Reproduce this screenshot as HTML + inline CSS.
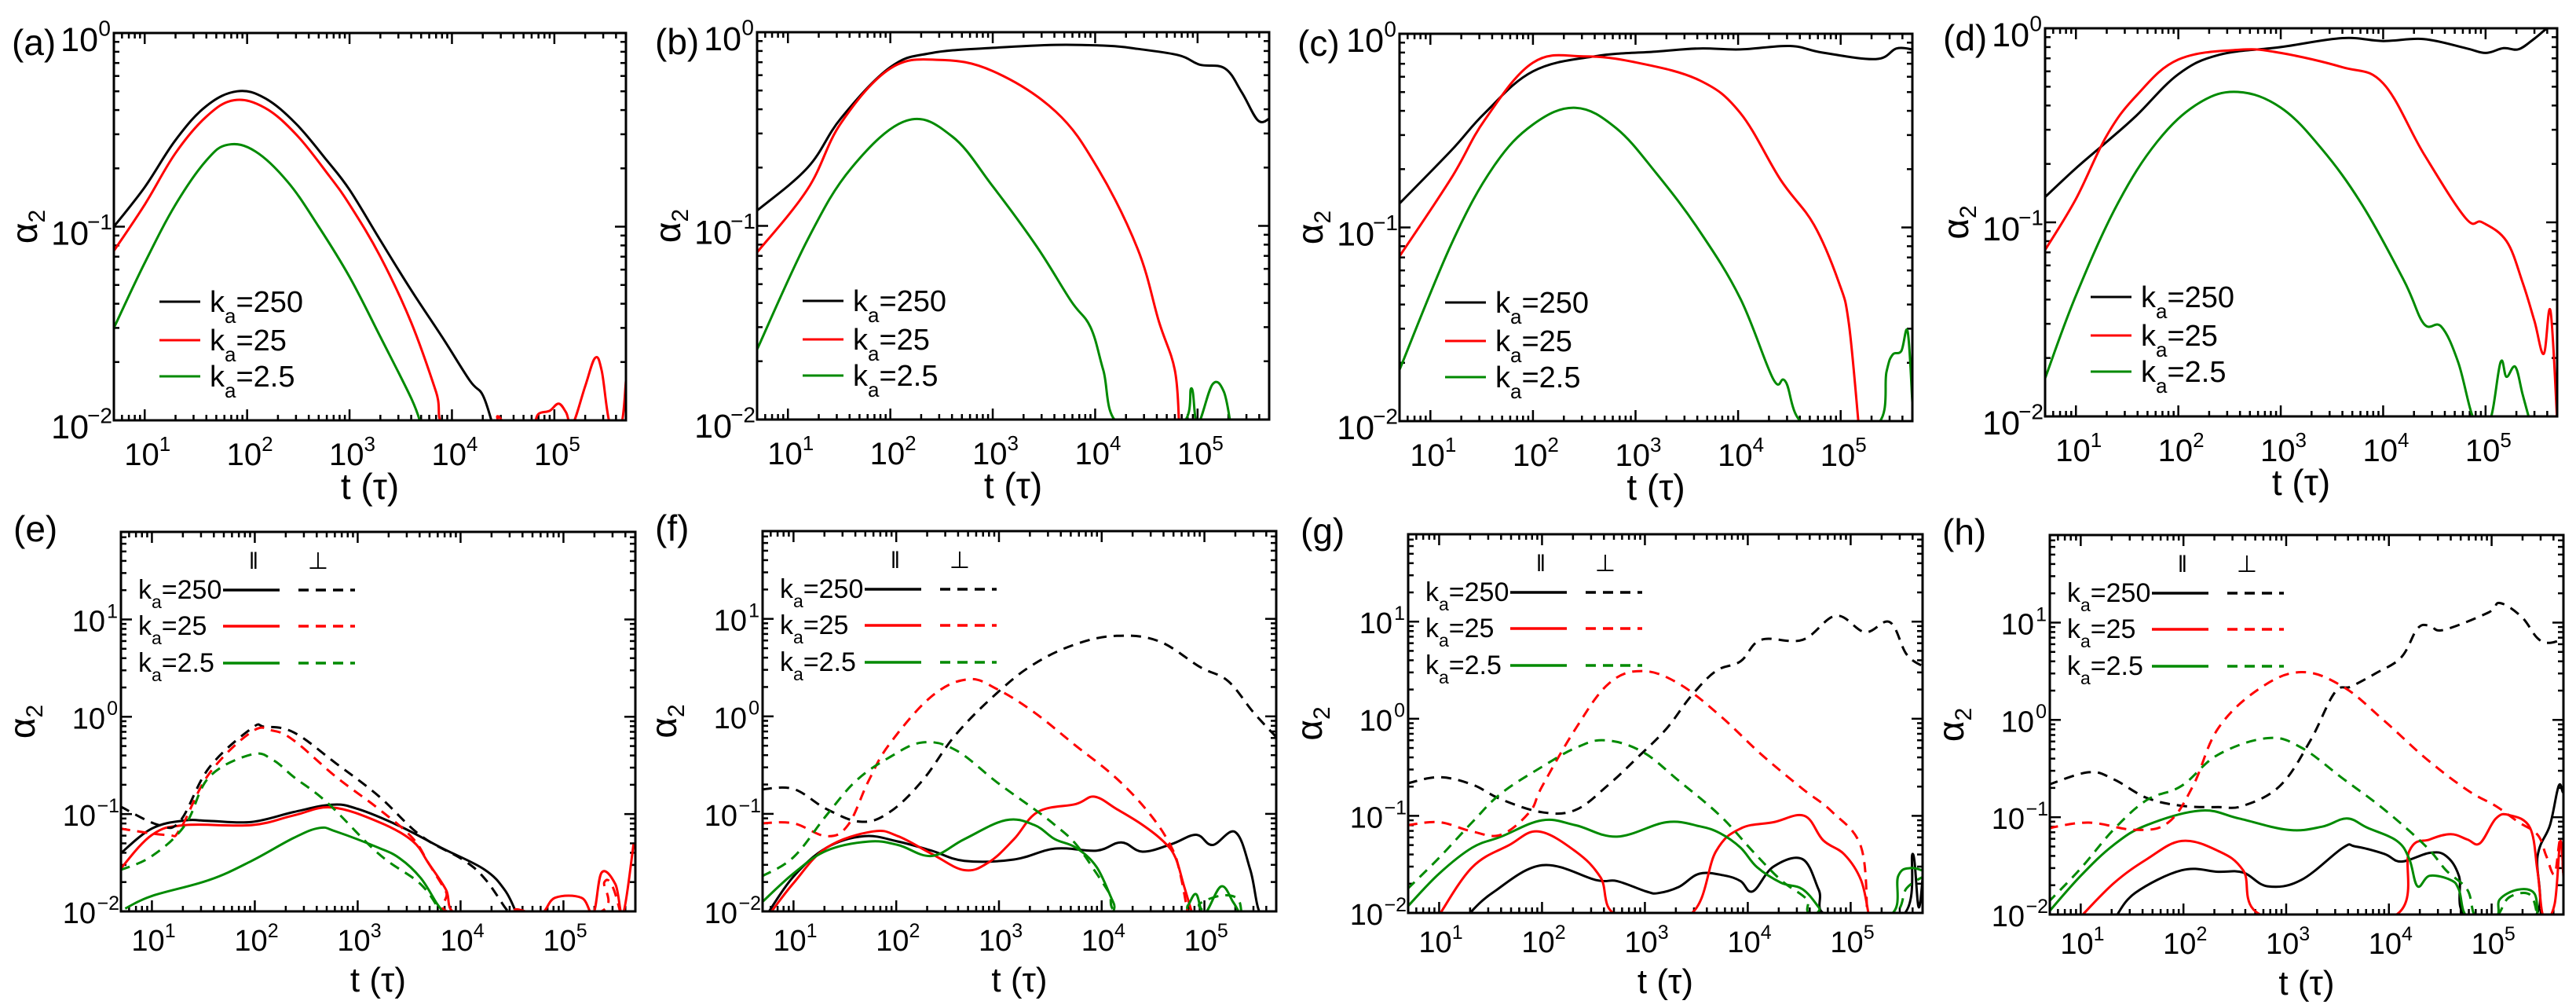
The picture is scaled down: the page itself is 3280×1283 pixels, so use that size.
<!DOCTYPE html>
<html><head><meta charset="utf-8">
<style>
html,body{margin:0;padding:0;background:#fff;}
svg{display:block;font-family:"Liberation Sans",Arial,sans-serif;}
</style></head>
<body>
<svg id="fig" width="3280" height="1283" viewBox="0 0 3280 1283" xmlns="http://www.w3.org/2000/svg"></svg>
<script>
// ---------- data: [t, alpha2] pairs (values < 0.01 fall below axis) ----------
const A_k250=[[5,0.10],[10,0.16],[20,0.28],[40,0.42],[80,0.50],[150,0.46],[300,0.34],[600,0.22],[1000,0.155],[2000,0.085],[4000,0.047],[8000,0.027],[15000,0.016],[20000,0.0135],[25000,0.0095]];
const A_k25=[[5,0.075],[10,0.13],[20,0.24],[40,0.37],[75,0.45],[150,0.41],[300,0.30],[600,0.19],[1000,0.13],[2000,0.07],[4000,0.032],[7000,0.014],[8500,0.0095],[25000,0.0095],[28000,0.0105],[35000,0.0095],[60000,0.0095],[70000,0.0108],[90000,0.0112],[110000,0.0122],[130000,0.011],[150000,0.0095],[200000,0.015],[250000,0.021],[290000,0.018],[350000,0.0095],[450000,0.0095],[500000,0.016]];
const A_k2_5=[[5,0.03],[10,0.065],[20,0.13],[40,0.22],[65,0.265],[120,0.245],[250,0.17],[500,0.1],[1000,0.055],[2000,0.027],[4000,0.013],[5000,0.0095]];

const B_k250=[[5,0.12],[15.6,0.2],[33,0.36],[100,0.66],[250,0.78],[1000,0.83],[4100,0.86],[13700,0.85],[26000,0.82],[66000,0.76],[105000,0.68],[185000,0.65],[270000,0.49],[390000,0.35],[510000,0.36]];
const B_k25=[[5,0.073],[15.6,0.155],[33,0.34],[100,0.65],[300,0.72],[1000,0.63],[4100,0.39],[10500,0.2],[26000,0.076],[42000,0.032],[60000,0.018],[66000,0.0095]];
const B_k2_5=[[5,0.023],[15.6,0.085],[42,0.2],[145,0.35],[400,0.29],[1000,0.16],[2700,0.078],[5800,0.041],[9000,0.03],[12000,0.018],[17000,0.0095],[69000,0.0095],[87000,0.0145],[100000,0.0095],[140000,0.0152],[180000,0.014],[210000,0.0095]];

const C_k250=[[5,0.133],[16,0.25],[34,0.39],[100,0.64],[400,0.765],[1600,0.81],[4200,0.84],[10500,0.83],[32000,0.865],[66000,0.8],[220000,0.74],[350000,0.84],[500000,0.83]];
const C_k25=[[5,0.071],[16,0.18],[34,0.36],[100,0.71],[310,0.765],[1030,0.71],[4200,0.575],[10500,0.39],[26000,0.176],[55000,0.103],[96000,0.052],[120000,0.032],[150000,0.0095]];
const C_k2_5=[[5,0.0184],[16,0.082],[41,0.205],[100,0.34],[260,0.415],[650,0.325],[1600,0.19],[4200,0.096],[10500,0.043],[22000,0.0165],[29000,0.016],[46000,0.0095],[220000,0.0095],[280000,0.018],[320000,0.022],[390000,0.023],[450000,0.029],[500000,0.0125]];

const D_k250=[[5,0.135],[10,0.19],[20,0.26],[39,0.355],[100,0.58],[250,0.73],[1000,0.8],[4000,0.89],[10000,0.86],[25000,0.88],[64000,0.79],[100000,0.746],[150000,0.79],[210000,0.78],[300000,0.885],[400000,1.0],[500000,1.05]];
const D_k25=[[5,0.072],[10,0.132],[20,0.28],[39,0.45],[100,0.69],[400,0.775],[1000,0.746],[4000,0.63],[10000,0.52],[25000,0.225],[64000,0.105],[93000,0.1],[160000,0.08],[230000,0.049],[300000,0.031],[370000,0.021],[430000,0.035],[500000,0.0095]];
const D_k2_5=[[5,0.0157],[10,0.042],[25,0.122],[62,0.26],[157,0.41],[380,0.47],[1000,0.39],[2500,0.24],[6300,0.122],[16000,0.05],[25000,0.03],[37000,0.029],[54000,0.019],[78000,0.0095],[110000,0.0095],[140000,0.019],[160000,0.016],[195000,0.018],[230000,0.013],[270000,0.0095]];

const E_k250_par=[[4.9,0.039],[10,0.071],[21,0.086],[36,0.085],[93,0.083],[240,0.105],[560,0.125],[1000,0.113],[2570,0.075],[6500,0.045],[17000,0.027],[27000,0.0165],[35000,0.0095]];
const E_k250_perp=[[4.9,0.12],[11.7,0.077],[18.8,0.085],[36,0.3],[93,0.76],[124,0.79],[240,0.69],[620,0.33],[1600,0.153],[4100,0.06],[10500,0.034],[17000,0.022],[27000,0.011],[30000,0.0095]];
const E_k25_par=[[4.9,0.027],[10,0.061],[21,0.077],[93,0.077],[240,0.097],[560,0.117],[1600,0.083],[3400,0.053],[4900,0.031],[7200,0.0168],[9100,0.0095],[30000,0.0095],[35000,0.0105],[60000,0.0095],[83000,0.0138],[150000,0.0138],[195000,0.0095],[235000,0.025],[320000,0.019],[380000,0.0095],[480000,0.049]];
const E_k25_perp=[[4.9,0.071],[14,0.061],[18.8,0.07],[36,0.26],[93,0.70],[150,0.72],[240,0.57],[620,0.24],[1600,0.113],[3400,0.057],[4900,0.031],[7200,0.016],[9100,0.0095],[200000,0.0095],[250000,0.02],[300000,0.018],[360000,0.0095]];
const E_k2_5_par=[[5.5,0.0107],[10,0.0144],[36,0.021],[93,0.033],[240,0.057],[425,0.072],[620,0.066],[1600,0.045],[2570,0.035],[4100,0.022],[5900,0.012],[7000,0.0095]];
const E_k2_5_perp=[[4.9,0.0265],[10,0.037],[21,0.077],[36,0.24],[93,0.41],[150,0.36],[240,0.24],[510,0.13],[1600,0.039],[4100,0.019],[6500,0.0095]];

const F_k250_par=[[5.6,0.0095],[10,0.0228],[21,0.045],[49,0.059],[104,0.052],[220,0.042],[460,0.033],[1400,0.034],[3500,0.044],[8900,0.042],[15500,0.051],[25000,0.041],[48000,0.049],[83000,0.061],[120000,0.048],[200000,0.065],[280000,0.0265],[350000,0.0095],[500000,0.0095],[510000,0.052]];
const F_k250_perp=[[4.9,0.178],[10,0.18],[21,0.112],[45,0.083],[86,0.104],[180,0.22],[380,0.65],[960,1.74],[2200,3.45],[5600,5.5],[14000,6.7],[36000,5.9],[91000,3.2],[170000,2.3],[300000,1.1],[510000,0.6]];
const F_k25_par=[[5.9,0.0095],[10,0.0195],[21,0.045],[59,0.066],[104,0.059],[220,0.039],[460,0.0265],[800,0.032],[1400,0.055],[2400,0.105],[5600,0.126],[8500,0.15],[14000,0.112],[25000,0.077],[40000,0.052],[52000,0.036],[63000,0.0185],[76000,0.0095]];
const F_k25_perp=[[4.9,0.08],[10,0.08],[21,0.059],[34,0.077],[54,0.22],[86,0.52],[220,1.6],[500,2.4],[960,1.9],[2200,1.1],[5600,0.5],[14000,0.23],[30000,0.097],[48000,0.045],[58000,0.0245],[69000,0.0095]];
const F_k2_5_par=[[4.9,0.0123],[10,0.0245],[21,0.042],[54,0.052],[104,0.048],[220,0.037],[460,0.055],[1160,0.086],[2200,0.077],[3500,0.055],[5600,0.045],[8900,0.0286],[13000,0.0123],[15000,0.0095],[58000,0.0095],[69000,0.0115],[83000,0.015],[100000,0.0095],[145000,0.018],[190000,0.0125],[220000,0.0095]];
const F_k2_5_perp=[[4.9,0.0228],[10,0.036],[21,0.097],[41,0.22],[86,0.38],[180,0.54],[380,0.45],[960,0.21],[2200,0.112],[3500,0.077],[5600,0.049],[8900,0.0245],[11800,0.0155],[15500,0.0095],[83000,0.0095],[90000,0.012],[145000,0.0145],[210000,0.0135],[230000,0.0095]];

const G_k250_par=[[19,0.0095],[33,0.0161],[100,0.031],[336,0.0218],[535,0.0213],[1020,0.0167],[1340,0.016],[2130,0.0185],[3400,0.0254],[5900,0.0243],[8500,0.0213],[11200,0.0167],[17800,0.03],[34000,0.0358],[49000,0.0172],[60000,0.0095],[320000,0.0095],[400000,0.0405],[460000,0.0114],[520000,0.039]];
const G_k250_perp=[[4.9,0.216],[10,0.25],[21,0.21],[40,0.148],[100,0.109],[212,0.115],[445,0.21],[850,0.4],[1620,0.79],[2800,1.7],[4900,3.1],[8500,3.9],[13500,6.5],[34000,6.5],[72000,11.5],[138000,7.8],[240000,9.9],[350000,4.6],[520000,3.4]];
const G_k25_par=[[10,0.0095],[21,0.0296],[48,0.05],[92,0.069],[212,0.043],[370,0.0233],[535,0.0095],[2700,0.0095],[4900,0.043],[8500,0.074],[17800,0.086],[35500,0.1],[54000,0.056],[87000,0.04],[126000,0.0218],[150000,0.0095]];
const G_k25_perp=[[4.9,0.08],[10,0.086],[21,0.069],[40,0.064],[76,0.11],[100,0.2],[212,0.79],[445,2.3],[935,3.1],[2130,2.3],[5400,1.07],[13500,0.43],[34000,0.19],[66000,0.11],[126000,0.048],[145000,0.0095]];
const G_k2_5_par=[[5,0.0118],[10,0.0254],[21,0.047],[40,0.061],[100,0.09],[212,0.08],[535,0.061],[1620,0.086],[3400,0.078],[5400,0.066],[8500,0.047],[12300,0.0296],[21000,0.0205],[34000,0.0176],[49000,0.0114],[54000,0.0095],[240000,0.0095],[290000,0.024],[380000,0.029],[520000,0.027]];
const G_k2_5_perp=[[4.9,0.0176],[10,0.037],[21,0.086],[40,0.17],[100,0.32],[212,0.5],[405,0.6],[935,0.46],[2130,0.23],[5400,0.1],[11200,0.043],[21000,0.0218],[37000,0.014],[45000,0.0095],[240000,0.0095],[350000,0.018],[520000,0.024]];

const H_k250_par=[[22,0.0095],[34,0.0167],[96,0.0285],[218,0.0275],[381,0.027],[660,0.0195],[1400,0.0226],[3560,0.0485],[4690,0.05],[9000,0.042],[13200,0.035],[25000,0.043],[36000,0.04],[48000,0.025],[58000,0.0095],[260000,0.0095],[280000,0.04],[370000,0.083],[450000,0.21],[500000,0.18],[550000,0.245]];
const H_k250_perp=[[4.8,0.215],[12,0.29],[21,0.245],[44,0.158],[96,0.131],[218,0.127],[381,0.131],[870,0.21],[1700,0.6],[2960,1.9],[4270,2.2],[7400,3.0],[13200,4.4],[19000,8.7],[25000,9.3],[34000,8.4],[93000,12.7],[120000,15.9],[195000,11.5],[280000,6.9],[370000,6.2],[550000,7.1]];
const H_k25_par=[[10,0.0095],[21,0.021],[44,0.037],[96,0.057],[218,0.045],[381,0.0285],[630,0.0095],[10900,0.0095],[15800,0.045],[25000,0.059],[40000,0.067],[58000,0.059],[77000,0.054],[110000,0.097],[148000,0.105],[236000,0.078],[280000,0.0275],[320000,0.0095],[410000,0.0127],[470000,0.057],[520000,0.0095]];
const H_k25_perp=[[4.8,0.077],[12,0.088],[34,0.074],[71,0.088],[124,0.21],[218,0.82],[550,2.1],[1400,3.1],[3560,2.2],[9000,0.98],[23000,0.4],[58000,0.19],[110000,0.13],[180000,0.09],[280000,0.066],[340000,0.04],[410000,0.026],[470000,0.057],[520000,0.0095]];
const H_k2_5_par=[[4.8,0.0104],[10,0.025],[21,0.052],[44,0.083],[148,0.117],[348,0.097],[1050,0.074],[2240,0.08],[3900,0.097],[6170,0.078],[12000,0.057],[15800,0.037],[19000,0.0195],[25000,0.025],[40000,0.0226],[48000,0.018],[58000,0.0095],[110000,0.0095],[120000,0.0143],[180000,0.018],[260000,0.0165],[280000,0.0095]];
const H_k2_5_perp=[[4.8,0.0133],[10,0.0298],[21,0.075],[44,0.15],[96,0.21],[218,0.44],[660,0.65],[1400,0.52],[3560,0.25],[9000,0.12],[23000,0.05],[36000,0.0285],[58000,0.018],[70000,0.0095],[110000,0.0095],[148000,0.015],[236000,0.016],[280000,0.0095]];

const legendLabels=["250","25","2.5"];
const xTickExps=[1,2,3,4,5];
const colors=["#000000","#ff0000","#008a00"];

// ---------- layout ----------
const NS="http://www.w3.org/2000/svg";
const svg=document.getElementById('fig');
function mk(tag,attrs,parent){const e=document.createElementNS(NS,tag);for(const k in attrs)e.setAttribute(k,attrs[k]);(parent||svg).appendChild(e);return e;}

const panels=[
 {id:'a',x0:145,y0:42,x1:797,y1:535,ymin:-2,ymax:0,top:true,series:[A_k250,A_k25,A_k2_5]},
 {id:'b',x0:964,y0:41,x1:1616,y1:534,ymin:-2,ymax:0,top:true,series:[B_k250,B_k25,B_k2_5]},
 {id:'c',x0:1782,y0:43,x1:2435,y1:536,ymin:-2,ymax:0,top:true,series:[C_k250,C_k25,C_k2_5]},
 {id:'d',x0:2604,y0:36,x1:3256,y1:530,ymin:-2,ymax:0,top:true,series:[D_k250,D_k25,D_k2_5]},
 {id:'e',x0:154,y0:677,x1:809,y1:1160,ymin:-2,ymax:1.9,top:false,series:[E_k250_par,E_k25_par,E_k2_5_par],perp:[E_k250_perp,E_k25_perp,E_k2_5_perp]},
 {id:'f',x0:971,y0:676,x1:1625,y1:1160,ymin:-2,ymax:1.9,top:false,series:[F_k250_par,F_k25_par,F_k2_5_par],perp:[F_k250_perp,F_k25_perp,F_k2_5_perp]},
 {id:'g',x0:1793,y0:680,x1:2448,y1:1162,ymin:-2,ymax:1.9,top:false,series:[G_k250_par,G_k25_par,G_k2_5_par],perp:[G_k250_perp,G_k25_perp,G_k2_5_perp]},
 {id:'h',x0:2610,y0:681,x1:3264,y1:1164,ymin:-2,ymax:1.9,top:false,series:[H_k250_par,H_k25_par,H_k2_5_par],perp:[H_k250_perp,H_k25_perp,H_k2_5_perp]}
];
const LMIN=Math.log10(5), LMAX=Math.log10(5e5);
function X(p,t){return p.x0+(Math.log10(t)-LMIN)/(LMAX-LMIN)*(p.x1-p.x0);}
function Y(p,v){return p.y1-(Math.log10(v)-p.ymin)/(p.ymax-p.ymin)*(p.y1-p.y0);}

function pathFor(p,pts){
  const P=pts.map(d=>[X(p,d[0]),Y(p,d[1])]);
  let s='M'+P[0][0].toFixed(1)+','+P[0][1].toFixed(1);
  for(let i=0;i<P.length-1;i++){
    const p0=P[Math.max(0,i-1)],p1=P[i],p2=P[i+1],p3=P[Math.min(P.length-1,i+2)];
    const t=0.18;
    const c1=[p1[0]+(p2[0]-p0[0])*t,p1[1]+(p2[1]-p0[1])*t];
    const c2=[p2[0]-(p3[0]-p1[0])*t,p2[1]-(p3[1]-p1[1])*t];
    s+=' C'+c1[0].toFixed(1)+','+c1[1].toFixed(1)+' '+c2[0].toFixed(1)+','+c2[1].toFixed(1)+' '+p2[0].toFixed(1)+','+p2[1].toFixed(1);
  }
  return s;
}

function expLabel(g,x,y,base,exp,fs,anchorRight){
  const t=mk('text',{x:x,y:y,'font-size':fs,'text-anchor':anchorRight?'end':'start',fill:'#000'},g);
  t.appendChild(document.createTextNode(base));
  const s=mk('tspan',{dy:-fs*0.45,'font-size':Math.round(fs*0.65)},t);
  s.textContent=exp;
  return t;
}

panels.forEach(p=>{
  const g=mk('g',{});
  
  
  const W=p.x1-p.x0,H=p.y1-p.y0;
  const cp=mk('clipPath',{id:'clip-'+p.id},g);
  mk('rect',{x:p.x0,y:p.y0,width:W,height:H},cp);

  // ticks
  const tk=mk('g',{stroke:'#000','stroke-width':2.5},g);
  
  
  for(let e=0;e<=5;e++){
    for(let m=1;m<=9;m++){
      const v=m*Math.pow(10,e); const lv=Math.log10(v);
      if(lv<LMIN-1e-9||lv>LMAX+1e-9) continue;
      const x=X(p,v); const L=m===1?14:7;
      mk('line',{x1:x,y1:p.y1,x2:x,y2:p.y1-L},tk);
      mk('line',{x1:x,y1:p.y0,x2:x,y2:p.y0+L},tk);
    }
  }
  for(let e=Math.floor(p.ymin);e<=Math.ceil(p.ymax);e++){
    for(let m=1;m<=9;m++){
      const v=m*Math.pow(10,e); const lv=Math.log10(v);
      if(lv<p.ymin-1e-9||lv>p.ymax+1e-9) continue;
      const y=Y(p,v); const L=m===1?14:7;
      mk('line',{x1:p.x0,y1:y,x2:p.x0+L,y2:y},tk);
      mk('line',{x1:p.x1,y1:y,x2:p.x1-L,y2:y},tk);
    }
  }

  // series
  const sg=mk('g',{'clip-path':'url(#clip-'+p.id+')',fill:'none','stroke-linejoin':'round'},g);
  p.series.forEach((s,i)=>{
    const path=mk('path',{d:pathFor(p,s),stroke:colors[i],'stroke-width':3},sg);
    
    
  });
  if(p.perp){
    p.perp.forEach((s,i)=>{
      const path=mk('path',{d:pathFor(p,s),stroke:colors[i],'stroke-width':3,'stroke-dasharray':'13,9'},sg);
      
      
    });
  }

  // frame
  const fr=mk('rect',{x:p.x0,y:p.y0,width:W,height:H,fill:'none',stroke:'#000','stroke-width':3},g);
  
  

  // x tick labels
  const fsx=p.top?40:38;
  const xbase=p.top?p.y1+57:p.y1+50;
  xTickExps.forEach(e=>{
    const t=expLabel(g,X(p,Math.pow(10,e))-26,xbase,'10',String(e),fsx,false);
    
    
  });
  // y tick labels
  const fsy=p.top?43:38;
  for(let e=Math.ceil(p.ymin);e<=Math.floor(p.ymax);e++){
    const ex=e<0?'\u2212'+(-e):String(e);
    const base=Y(p,Math.pow(10,e))+(p.top?23:15);
    const t=expLabel(g,p.x0-4-(e<0?28:16),base,'10','',fsy,true);
    t.lastChild.remove();
    const sup=mk('text',{x:p.x0-(e<0?2:4),y:base-fsy*0.45,'font-size':Math.round(fsy*0.65),'text-anchor':'end'},g);
    sup.textContent=ex;
    
    
    
    
  }
  // axis titles
  const xt=mk('text',{x:(p.x0+p.x1)/2,y:p.top?p.y1+100:p.y1+102,'font-size':p.top?46:44,'text-anchor':'middle'},g);
  xt.textContent='t (\u03C4)';
  
  
  const cy=(p.y0+p.y1)/2;
  const yx=p.x0-(p.top?98:110);
  const yt=mk('text',{x:0,y:0,'font-size':46,'text-anchor':'middle',transform:'translate('+yx+','+cy+') rotate(-90)'},g);
  yt.appendChild(document.createTextNode('\u03B1'));
  const ys=mk('tspan',{dy:10,'font-size':30},yt);ys.textContent='2';
  
  
  // panel letter
  const pl=mk('text',{x:p.x0-(p.top?130:137),y:p.top?p.y0+28:p.y0+12,'font-size':46},g);
  pl.textContent='('+p.id+')';
  
  

  // legend
  const lg=mk('g',{},g);
  
  
  if(p.top){
    const rows=[342,391,437];
    legendLabels.forEach((lab,i)=>{
      const y=p.y0+rows[i];
      const ln=mk('line',{x1:p.x0+58,y1:y,x2:p.x0+110,y2:y,stroke:colors[i],'stroke-width':3},lg);
      
      
      const t=mk('text',{x:p.x0+122,y:y+13,'font-size':38},lg);
      t.appendChild(document.createTextNode('k'));
      const sb=mk('tspan',{dy:14,'font-size':26},t);sb.textContent='a';
      const rest=mk('tspan',{dy:-14},t);rest.textContent='='+lab;
      
      
    });
  } else {
    const h1=mk('text',{x:p.x0+169,y:p.y0+47,'font-size':30,'text-anchor':'middle'},lg);
    h1.textContent='\u2016';
    
    
    const h2=mk('text',{x:p.x0+251,y:p.y0+47,'font-size':30,'text-anchor':'middle'},lg);
    h2.textContent='\u22A5';
    
    
    const rows=[74,120,167];
    legendLabels.forEach((lab,i)=>{
      const y=p.y0+rows[i];
      const t=mk('text',{x:p.x0+22,y:y+11,'font-size':34},lg);
      t.appendChild(document.createTextNode('k'));
      const sb=mk('tspan',{dy:12,'font-size':23},t);sb.textContent='a';
      const rest=mk('tspan',{dy:-12},t);rest.textContent='='+lab;
      
      
      const l1=mk('line',{x1:p.x0+130,y1:y,x2:p.x0+202,y2:y,stroke:colors[i],'stroke-width':3.5},lg);
      
      
      const l2=mk('line',{x1:p.x0+226,y1:y,x2:p.x0+298,y2:y,stroke:colors[i],'stroke-width':3.5,'stroke-dasharray':'13,9'},lg);
      
      
    });
  }
});
</script>
</body></html>
